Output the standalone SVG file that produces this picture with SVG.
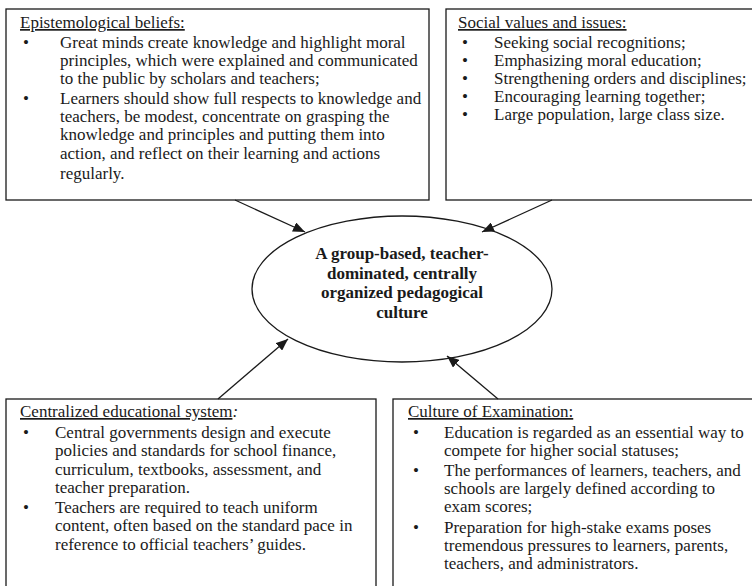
<svg xmlns="http://www.w3.org/2000/svg" width="752" height="586" viewBox="0 0 752 586">
  <style>
    .box { fill: #ffffff; stroke: #1a1a1a; stroke-width: 1.3; }
    .ell { fill: #ffffff; stroke: #1a1a1a; stroke-width: 1.3; }
    .link { stroke: #1a1a1a; stroke-width: 1.3; fill: none; marker-end: url(#arrow); }
    text { font-family: "Liberation Serif", "Times New Roman", serif; font-size: 17px; fill: #1a1a1a; }
    .head { text-decoration: underline; }
    .core { font-weight: bold; text-anchor: middle; font-size: 17px; }
  </style>
  <defs>
    <marker id="arrow" viewBox="0 0 12 10" refX="12" refY="5" markerWidth="12" markerHeight="10" markerUnits="userSpaceOnUse" orient="auto">
      <path d="M0,0 L12,5 L0,10 z" fill="#1a1a1a"/>
    </marker>
  </defs>
  <rect width="752" height="586" fill="#ffffff"/>

  <!-- Epistemological beliefs -->
  <g id="epistemological">
    <rect class="box" x="6" y="9" width="423" height="191"/>
    <text x="20" y="28"><tspan class="head">Epistemological beliefs:</tspan></text>
    <text x="23" y="48">•</text>
    <text x="60" y="48">Great minds create knowledge and highlight moral</text>
    <text x="60" y="66">principles, which were explained and communicated</text>
    <text x="60" y="84">to the public by scholars and teachers;</text>
    <text x="23" y="104">•</text>
    <text x="60" y="104">Learners should show full respects to knowledge and</text>
    <text x="60" y="122">teachers, be modest, concentrate on grasping the</text>
    <text x="60" y="140">knowledge and principles and putting them into</text>
    <text x="60" y="159">action, and reflect on their learning and actions</text>
    <text x="60" y="179">regularly.</text>
  </g>

  <!-- Social values and issues -->
  <g id="social">
    <rect class="box" x="446" y="9" width="320" height="191"/>
    <text x="458" y="28"><tspan class="head">Social values and issues:</tspan></text>
    <text x="462" y="48">•</text>
    <text x="494" y="48">Seeking social recognitions;</text>
    <text x="462" y="66">•</text>
    <text x="494" y="66">Emphasizing moral education;</text>
    <text x="462" y="84">•</text>
    <text x="494" y="84">Strengthening orders and disciplines;</text>
    <text x="462" y="102">•</text>
    <text x="494" y="102">Encouraging learning together;</text>
    <text x="462" y="120">•</text>
    <text x="494" y="120">Large population, large class size.</text>
  </g>

  <!-- Central culture -->
  <g id="culture">
    <ellipse class="ell" cx="402" cy="289" rx="150" ry="73"/>
    <text class="core" x="402" y="259">A group-based, teacher-</text>
    <text class="core" x="402" y="279">dominated, centrally</text>
    <text class="core" x="402" y="298">organized pedagogical</text>
    <text class="core" x="402" y="318">culture</text>
  </g>

  <!-- Centralized educational system -->
  <g id="centralized">
    <rect class="box" x="6" y="399" width="370" height="200"/>
    <text x="20" y="417"><tspan class="head">Centralized educational system</tspan><tspan font-style="italic">:</tspan></text>
    <text x="23" y="438">•</text>
    <text x="55" y="438">Central governments design and execute</text>
    <text x="55" y="456">policies and standards for school finance,</text>
    <text x="55" y="475">curriculum, textbooks, assessment, and</text>
    <text x="55" y="493">teacher preparation.</text>
    <text x="23" y="513">•</text>
    <text x="55" y="513">Teachers are required to teach uniform</text>
    <text x="55" y="531">content, often based on the standard pace in</text>
    <text x="55" y="550">reference to official teachers’ guides.</text>
  </g>

  <!-- Culture of Examination -->
  <g id="examination">
    <rect class="box" x="393" y="399" width="370" height="200"/>
    <text x="408" y="417"><tspan class="head">Culture of Examination:</tspan></text>
    <text x="413" y="438">•</text>
    <text x="444" y="438">Education is regarded as an essential way to</text>
    <text x="444" y="456">compete for higher social statuses;</text>
    <text x="413" y="476">•</text>
    <text x="444" y="476">The performances of learners, teachers, and</text>
    <text x="444" y="494">schools are largely defined according to</text>
    <text x="444" y="512">exam scores;</text>
    <text x="413" y="533">•</text>
    <text x="444" y="533">Preparation for high-stake exams poses</text>
    <text x="444" y="551">tremendous pressures to learners, parents,</text>
    <text x="444" y="569">teachers, and administrators.</text>
  </g>

  <!-- Connectors -->
  <g id="connectors">
    <line class="link" x1="235" y1="200" x2="305" y2="232"/>
    <line class="link" x1="552" y1="200" x2="482" y2="232"/>
    <line class="link" x1="218" y1="399" x2="288" y2="339"/>
    <line class="link" x1="498" y1="399" x2="447" y2="356"/>
  </g>
</svg>
